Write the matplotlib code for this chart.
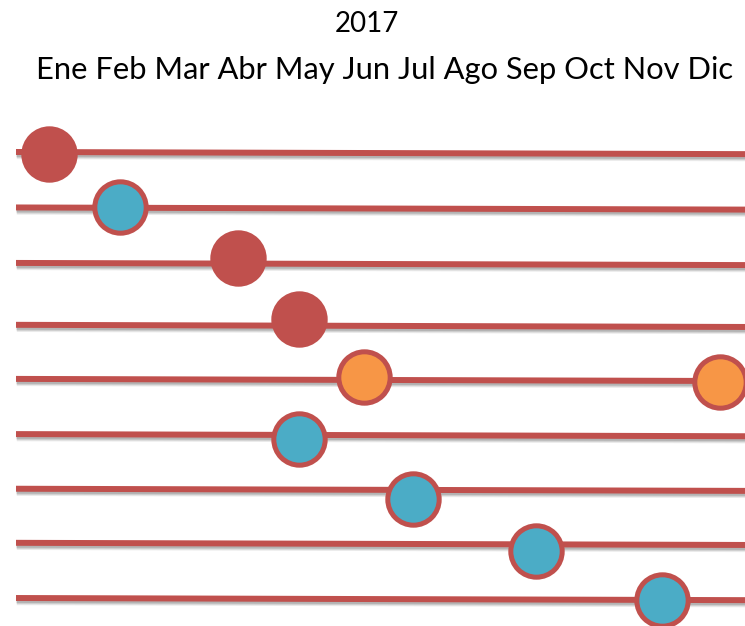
import matplotlib
matplotlib.use("Agg")
import matplotlib.pyplot as plt
import matplotlib.patheffects as pe

# ---- data ----
title = "2017"
months = ["Ene", "Feb", "Mar", "Abr", "May", "Jun", "Jul", "Ago", "Sep", "Oct", "Nov", "Dic"]
# row positions of the horizontal lines (row units, top = 0)
rows = [0.0, 0.995, 1.99, 3.10, 4.07, 5.06, 6.04, 7.01, 8.0]
row_tilt = 0.04          # slight drop of each line from left to right
# points: month position (0 = Ene) and vertical position
pt_month = [-0.13, 1.06, 3.03, 4.06, 5.15, 11.11, 4.06, 5.96, 8.02, 10.13]
pt_row = [0.045, 0.99, 1.90, 3.00, 4.04, 4.13, 5.14, 6.22, 7.16, 8.04]
pt_kind = ["red", "blue", "red", "red", "orange", "orange", "blue", "blue", "blue", "blue"]

RED = "#C0504D"
BLUE = "#4BACC6"
ORANGE = "#F79646"
fills = {"red": RED, "blue": BLUE, "orange": ORANGE}

W, H, DPI = 745, 626, 100
fig = plt.figure(figsize=(W / DPI, H / DPI), dpi=DPI)
ax = fig.add_axes([0, 0, 1, 1])
ax.set_xlim(-0.955, 11.524)
ax.set_ylim(8.502, -2.726)
ax.axis("off")

line_start = -0.687
line_end = 12.0
shadow = [pe.SimpleLineShadow(offset=(0.6, -3.0), shadow_color="0.55", alpha=0.18),
          pe.SimpleLineShadow(offset=(0.5, -2.2), shadow_color="0.5", alpha=0.25),
          pe.SimpleLineShadow(offset=(0.4, -1.4), shadow_color="0.45", alpha=0.3),
          pe.Normal()]
for r in rows:
    ax.plot([line_start, line_end], [r, r + row_tilt],
            color=RED, lw=4.3, solid_capstyle="butt", zorder=1,
            path_effects=shadow)

for m, r, k in zip(pt_month, pt_row, pt_kind):
    ax.plot([m], [r], marker="o", ms=37, mfc=fills[k], mec=RED, mew=3.6,
            linestyle="none", zorder=3)

font = ["Lato", "DejaVu Sans"]
fig.text(367 / W, 1 - 24 / H, title, ha="center", va="center",
         fontsize=20, family=font, color="black")
mt = fig.text(385 / W, 1 - 70 / H, " ".join(months), ha="center", va="center",
              fontsize=19, family=font, color="black")
# fit month line to the reference width (~696 px)
fig.canvas.draw()
wpx = mt.get_window_extent().width
mt.set_fontsize(19 * 696 / wpx)

fig.savefig("out.png", dpi=DPI)
